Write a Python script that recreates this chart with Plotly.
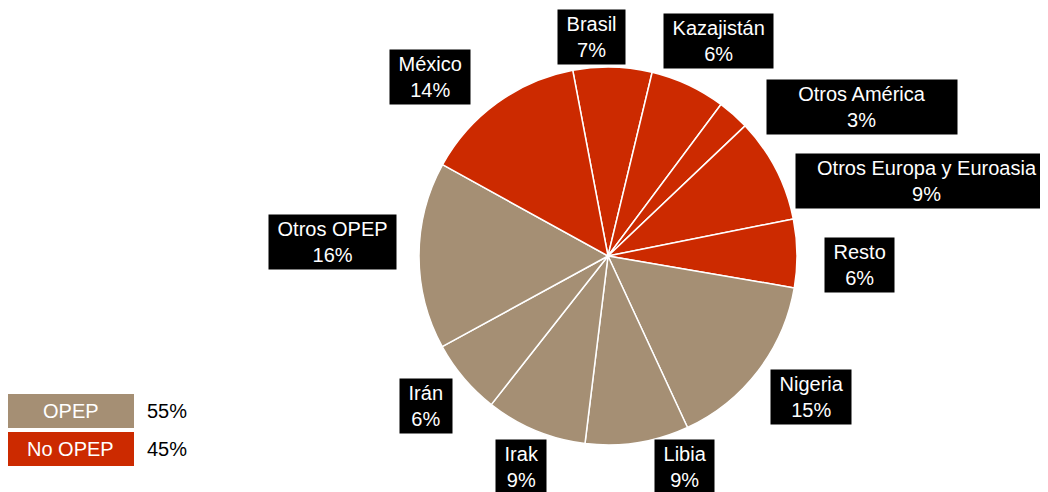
import numpy as np
import plotly.graph_objects as go

# slices, clockwise from the Brasil/México boundary
countries = ["Brasil", "Kazajistán", "Otros América", "Otros Europa y Euroasia", "Resto",
             "Nigeria", "Libia", "Irak", "Irán", "Otros OPEP", "México"]
shares = [6.7, 6.4, 2.7, 8.9, 5.8, 15.3, 8.8, 8.6, 6.4, 15.9, 13.9]
label_pct = ["7%", "6%", "3%", "9%", "6%", "15%", "9%", "9%", "6%", "16%", "14%"]
group = ["No OPEP", "No OPEP", "No OPEP", "No OPEP", "No OPEP",
         "OPEP", "OPEP", "OPEP", "OPEP", "OPEP", "No OPEP"]
group_names = ["OPEP", "No OPEP"]

W, H = 1048, 492
OFF = 8  # page body margin: the figure starts 8px in from the window corner
ROTATION = -10.75
colors = {"OPEP": "#A58F74", "No OPEP": "#CC2A00"}
FONT = "Arial, Liberation Sans, sans-serif"


def px_x(x):
    return (x - OFF) / W


def px_y(y):
    return 1 - (y - OFF) / H


# callout placement: radius (in pie radii) and angular nudge (deg) from slice middle
label_r = [1.162, 1.28, 1.558, 1.734, 1.334, 1.308, 1.188, 1.207, 1.248, 1.462, 1.335]
label_shift = [-5.8, 2.2, 18.0, 14.2, 2.8, -2.6, -11.1, -0.2, 0.8, 2.8, -8.9]
label_width = [None, None, 184, 256, None, None, None, None, None, None, None]

# pie in window pixels: centre (608, 256), radius 189
dom_x = [px_x(608 - 189), px_x(608 + 189)]
dom_y = [px_y(445), px_y(67)]

fig = go.Figure()
fig.add_trace(
    go.Pie(
        labels=countries,
        values=shares,
        sort=False,
        direction="clockwise",
        rotation=ROTATION,
        textinfo="none",
        hoverinfo="label+percent",
        marker={"colors": [colors[g] for g in group], "line": {"color": "white", "width": 1.5}},
        domain={"x": dom_x, "y": dom_y},
        showlegend=False,
    )
)

# pie geometry in window pixels
cx = (dom_x[0] + dom_x[1]) / 2 * W + OFF
cy = (1 - (dom_y[0] + dom_y[1]) / 2) * H + OFF
R = min((dom_x[1] - dom_x[0]) * W, (dom_y[1] - dom_y[0]) * H) / 2

vals = np.array(shares, dtype=float)
cum = np.concatenate([[0], np.cumsum(vals)]) / vals.sum() * 360
mids = (cum[:-1] + cum[1:]) / 2 + ROTATION

annotations = []
for i, name in enumerate(countries):
    a = np.radians(mids[i] + label_shift[i])
    lx = cx + label_r[i] * R * np.sin(a)
    ly = cy - label_r[i] * R * np.cos(a)
    pad = "" if label_width[i] else "&nbsp;"
    ann = dict(
        x=px_x(lx), y=px_y(ly), xref="paper", yref="paper",
        text=f"{pad}{name}{pad}<br>{label_pct[i]}", showarrow=False,
        font={"family": FONT, "size": 20, "color": "white"},
        bgcolor="black", borderpad=3, align="center",
        xanchor="center", yanchor="middle",
    )
    if label_width[i]:
        ann["width"] = label_width[i]
    annotations.append(ann)

# group legend (bottom left)
shapes = []
grp_tot = {g: sum(v for v, gg in zip(shares, group) if gg == g) for g in group_names}
tot = sum(grp_tot.values())
box_top = [394, 432]
for j, g in enumerate(group_names):
    y0, y1 = box_top[j], box_top[j] + 34
    shapes.append(dict(type="rect", xref="paper", yref="paper",
                       x0=px_x(7), x1=px_x(134), y0=px_y(y1), y1=px_y(y0),
                       fillcolor=colors[g], line={"width": 0}))
    annotations.append(dict(x=px_x(70.5), y=px_y(y0 + 17), xref="paper", yref="paper",
                            text=g, showarrow=False, xanchor="center", yanchor="middle",
                            font={"family": FONT, "size": 20, "color": "white"}))
    annotations.append(dict(x=px_x(145), y=px_y(y0 + 17), xref="paper", yref="paper",
                            text=f"{round(grp_tot[g] / tot * 100)}%", showarrow=False,
                            xanchor="left", yanchor="middle",
                            font={"family": FONT, "size": 20, "color": "black"}))

fig.update_layout(
    width=W, height=H,
    margin={"l": 0, "r": 0, "t": 0, "b": 0},
    paper_bgcolor="white", plot_bgcolor="white",
    annotations=annotations, shapes=shapes,
    font={"family": FONT},
)

fig.write_html("out.html")
